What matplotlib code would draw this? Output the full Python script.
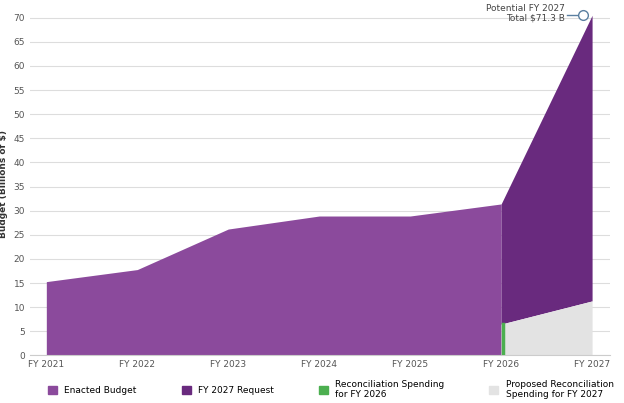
import numpy as np
import matplotlib.pyplot as plt
from matplotlib.patches import Patch

years = ['FY 2021', 'FY 2022', 'FY 2023', 'FY 2024', 'FY 2025', 'FY 2026', 'FY 2027']
enacted = [15.3, 17.8, 26.2, 28.9, 28.9, 31.4]
request_total = [31.4, 70.5]
reconciliation_2026 = 6.5
proposed_recon = [6.5, 11.3]

x = np.arange(len(years))
fig = plt.figure(figsize=(6.24, 4.03), dpi=100)
ax = fig.add_axes([0.048, 0.118, 0.93, 0.85])

ax.fill_between(x[:6], 0, enacted, color='#8b4a9c', zorder=2, linewidth=0)
ax.fill_between(x[5:], proposed_recon, request_total, color='#692a7e', zorder=2, linewidth=0)
ax.fill_between(x[5:], 0, proposed_recon, color='#e3e3e3', zorder=2, linewidth=0)
ax.plot([x[5] + 0.02] * 2, [0, reconciliation_2026], color='#4caf50', lw=2.5, zorder=3)

ax.plot(x[6] - 0.1, 70.5, 'o', mfc='white', mec='#5a7fa0', ms=7, zorder=4, clip_on=False)
ax.plot([x[6] - 0.28, x[6] - 0.15], [70.5, 70.5], color='#5a7fa0', lw=1, clip_on=False)
ax.text(x[6] - 0.3, 71.0, 'Potential FY 2027\nTotal $71.3 B', ha='right', va='center',
        fontsize=6.5, color='#444444', linespacing=1.1)

ax.set_xlim(-0.18, 6.2)
ax.set_ylim(0, 71)
ax.set_yticks(range(0, 75, 5))
ax.set_xticks(x)
ax.set_xticklabels(years)
ax.tick_params(labelsize=6.5, colors='#555555', length=0)
ax.grid(axis='y', color='#dddddd', lw=0.8, zorder=0)
for s in ['top', 'right', 'left']:
    ax.spines[s].set_visible(False)
ax.spines['bottom'].set_color('#cccccc')
ax.set_ylabel('Budget (Billions of $)', fontsize=6.5, fontweight='bold', color='#333333')

handles = [Patch(color='#8b4a9c'), Patch(color='#692a7e'), Patch(color='#4caf50'), Patch(color='#e3e3e3')]
labels = ['Enacted Budget', 'FY 2027 Request', 'Reconciliation Spending\nfor FY 2026',
          'Proposed Reconciliation\nSpending for FY 2027']
fig.legend(handles, labels, loc='lower center', ncol=4, frameon=False, fontsize=6.5,
           bbox_to_anchor=(0.53, -0.01), handlelength=1.0, handleheight=1.0, columnspacing=5)
fig.savefig('out.png', dpi=100)
